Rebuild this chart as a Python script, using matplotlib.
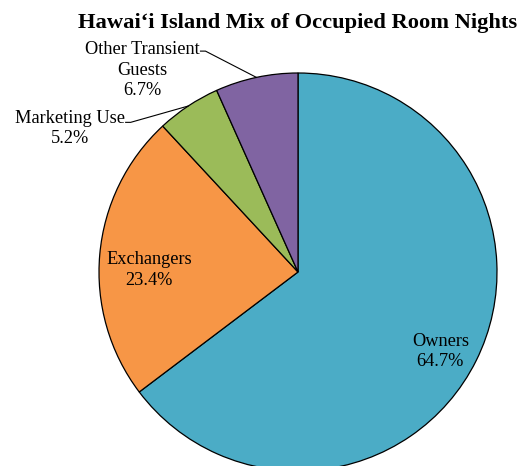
import numpy as np
import matplotlib
matplotlib.use('Agg')
import matplotlib.pyplot as plt

plt.rcParams['font.family'] = ['Liberation Serif', 'DejaVu Serif']

# data (clockwise from 12 o'clock)
labels = ['Owners', 'Exchangers', 'Marketing Use', 'Other Transient\nGuests']
shares = [64.7, 23.4, 5.2, 6.7]
colors = ['#4BACC6', '#F79646', '#9BBB59', '#8064A2']

fig = plt.figure(figsize=(5.25, 4.66), dpi=100)
# pie centre ~ (298, 272) px, radius ~199 px
r_px = 199
ax = fig.add_axes([(298 - r_px) / 525, (466 - 272 - r_px) / 466, 2 * r_px / 525, 2 * r_px / 466])
wedges, _ = ax.pie(shares, colors=colors, startangle=90, counterclock=False, radius=1,
                   wedgeprops=dict(edgecolor='black', linewidth=0.9))
ax.set_xlim(-1, 1)
ax.set_ylim(-1, 1)
ax.set_aspect('equal')
ax.axis('off')
for w in wedges:
    w.set_clip_on(False)

fs = 13.2
# labels inside the big slices
inside = {0: (0.715, -0.40), 1: (-0.75, 0.01)}
for i, (x, y) in inside.items():
    ax.text(x, y, '{}\n{}%'.format(labels[i], shares[i]), ha='center', va='center',
            fontsize=fs, linespacing=1.25)

# outside labels with leader lines
outside = {2: ((-1.145, 0.72), (-0.866, 0.752)),
           3: ((-0.78, 1.015), (-0.49, 1.11))}
for i, (txt_xy, end_xy) in outside.items():
    ax.text(txt_xy[0], txt_xy[1], '{}\n{}%'.format(labels[i], shares[i]), ha='center',
            va='center', fontsize=fs, linespacing=1.25)
    w = wedges[i]
    mid = np.deg2rad((w.theta1 + w.theta2) / 2)
    px, py = np.cos(mid), np.sin(mid)
    ax.plot([end_xy[0], end_xy[0] + 0.025, px], [end_xy[1], end_xy[1], py],
            color='black', lw=0.8, clip_on=False)

fig.text(298 / 525, 1 - 23 / 466, 'Hawai\u2018i Island Mix of Occupied Room Nights',
         ha='center', va='center', fontsize=16.2, fontweight='bold')

fig.savefig('out.png', dpi=100)
